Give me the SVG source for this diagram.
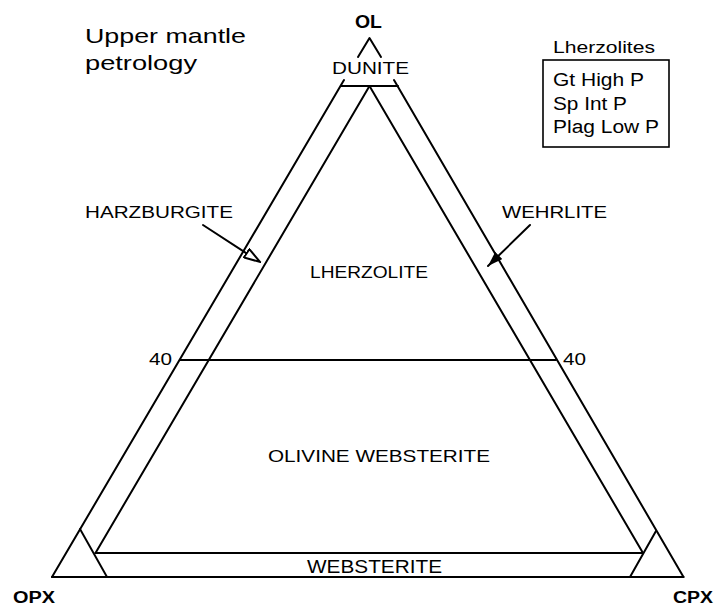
<svg xmlns="http://www.w3.org/2000/svg" width="716" height="605" viewBox="0 0 716 605">
<style>
  .ln { fill: none; stroke: #000; stroke-width: 2; stroke-linecap: round; stroke-linejoin: round; }
  .t { font-family: "Liberation Sans", Arial, Helvetica, sans-serif; fill: #000; }
  .b { font-weight: bold; }
</style>
<defs>
  <marker id="openHead" markerUnits="userSpaceOnUse" viewBox="-1 -1 18 12" refX="0" refY="5" markerWidth="18" markerHeight="12" orient="auto">
    <path d="M0,0 L16,5 L0,10 Z" fill="#fff" stroke="#000" stroke-width="2" stroke-linejoin="miter"/>
  </marker>
  <marker id="solidHead" markerUnits="userSpaceOnUse" viewBox="0 0 15 10" refX="15" refY="5" markerWidth="15" markerHeight="10" orient="auto">
    <path d="M0,0 L15,5 L0,10 Z" fill="#000"/>
  </marker>
</defs>
<rect width="716" height="605" fill="#fff"/>

<g id="title">
  <text class="t" x="85" y="43" font-size="21" textLength="161" lengthAdjust="spacingAndGlyphs">Upper mantle</text>
  <text class="t" x="85" y="70" font-size="21" textLength="112" lengthAdjust="spacingAndGlyphs">petrology</text>
</g>

<g id="triangle">
  <!-- apex cap -->
  <polyline class="ln" points="358,57 369.5,38 381,57"/>
  <!-- outer edges -->
  <line class="ln" x1="344" y1="80" x2="52" y2="577"/>
  <line class="ln" x1="394" y1="80" x2="683.5" y2="577"/>
  <line class="ln" x1="52" y1="577" x2="683.5" y2="577"/>
</g>

<g id="boundaries">
  <!-- dunite line -->
  <line class="ln" x1="341" y1="86" x2="398" y2="86"/>
  <!-- inner triangle -->
  <line class="ln" x1="369.5" y1="86" x2="95.5" y2="553"/>
  <line class="ln" x1="369.5" y1="86" x2="643" y2="553"/>
  <!-- websterite line -->
  <line class="ln" x1="95.5" y1="553" x2="643" y2="553"/>
  <!-- 40 line -->
  <line class="ln" x1="180" y1="360" x2="556" y2="360"/>
  <!-- corner lines -->
  <line class="ln" x1="80" y1="529" x2="107" y2="577"/>
  <line class="ln" x1="656" y1="531" x2="630" y2="577"/>
</g>

<g id="connectors">
  <path class="ln" d="M203,225 L246.6,253.3" marker-end="url(#openHead)"/>
  <path class="ln" d="M530,225 L488,266" marker-end="url(#solidHead)"/>
</g>

<g id="label-OL">
  <text class="t b" x="355" y="28" font-size="18" textLength="27" lengthAdjust="spacingAndGlyphs">OL</text>
</g>
<g id="label-DUNITE">
  <text class="t" x="332" y="73.5" font-size="16.5" textLength="77" lengthAdjust="spacingAndGlyphs">DUNITE</text>
</g>
<g id="legend">
  <text class="t" x="553" y="53" font-size="17" textLength="102" lengthAdjust="spacingAndGlyphs">Lherzolites</text>
  <rect x="543" y="60" width="126" height="87" fill="none" stroke="#000" stroke-width="1.6"/>
  <text class="t" x="553" y="86" font-size="18" textLength="91" lengthAdjust="spacingAndGlyphs">Gt High P</text>
  <text class="t" x="553" y="109.5" font-size="18" textLength="74" lengthAdjust="spacingAndGlyphs">Sp Int P</text>
  <text class="t" x="553" y="133" font-size="18" textLength="106" lengthAdjust="spacingAndGlyphs">Plag Low P</text>
</g>
<g id="label-HARZBURGITE">
  <text class="t" x="85" y="217.5" font-size="17" textLength="148" lengthAdjust="spacingAndGlyphs">HARZBURGITE</text>
</g>
<g id="label-WEHRLITE">
  <text class="t" x="502" y="218" font-size="17" textLength="105" lengthAdjust="spacingAndGlyphs">WEHRLITE</text>
</g>
<g id="label-LHERZOLITE">
  <text class="t" x="310" y="278" font-size="17" textLength="118" lengthAdjust="spacingAndGlyphs">LHERZOLITE</text>
</g>
<g id="label-40">
  <text class="t" x="149" y="365" font-size="17" textLength="23" lengthAdjust="spacingAndGlyphs">40</text>
  <text class="t" x="563" y="365" font-size="17" textLength="23" lengthAdjust="spacingAndGlyphs">40</text>
</g>
<g id="label-OLIVINE-WEBSTERITE">
  <text class="t" x="268" y="462" font-size="17" textLength="222" lengthAdjust="spacingAndGlyphs">OLIVINE WEBSTERITE</text>
</g>
<g id="label-WEBSTERITE">
  <text class="t" x="307" y="573" font-size="18" textLength="135" lengthAdjust="spacingAndGlyphs">WEBSTERITE</text>
</g>
<g id="label-OPX">
  <text class="t b" x="13" y="603" font-size="16" textLength="42" lengthAdjust="spacingAndGlyphs">OPX</text>
</g>
<g id="label-CPX">
  <text class="t b" x="673" y="603" font-size="16" textLength="40" lengthAdjust="spacingAndGlyphs">CPX</text>
</g>
</svg>
